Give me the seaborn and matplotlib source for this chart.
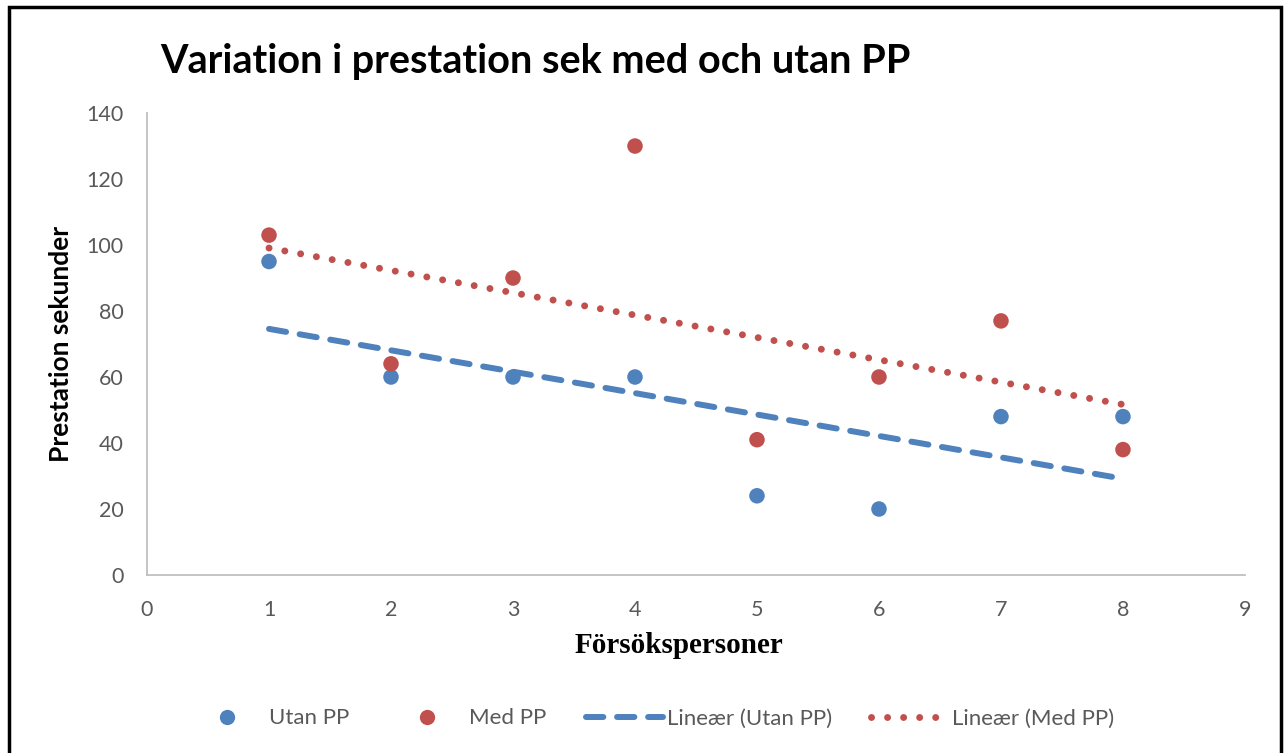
import numpy as np
import pandas as pd
import matplotlib
matplotlib.use("Agg")
import matplotlib.pyplot as plt
from matplotlib.lines import Line2D
from matplotlib.patches import Rectangle
import seaborn as sns

# Data
persons = [1, 2, 3, 4, 5, 6, 7, 8]
utan_pp = [95, 60, 60, 60, 24, 20, 48, 48]
med_pp = [103, 64, 90, 130, 41, 60, 77, 38]
x_ticks = [0, 1, 2, 3, 4, 5, 6, 7, 8, 9]
y_ticks = [0, 20, 40, 60, 80, 100, 120, 140]
title = "Variation i prestation sek med och utan PP"
xlabel = "Försökspersoner"
ylabel = "Prestation sekunder"
legend_labels = ["Utan PP", "Med PP", "Lineær (Utan PP)", "Lineær (Med PP)"]

sns.set_style("white")
plt.rcParams['font.family'] = ['Lato', 'DejaVu Sans']
plt.rcParams['text.color'] = 'black'

BLUE = "#4F81BD"
RED = "#C0504D"
GREY = "#595959"
DASH = (0, (2.9, 2.3))
DOT = (0, (0.01, 2.3))
DASH_LW = 4.3
DOT_LW = 5.0

df = pd.DataFrame({"x": persons, "utan": utan_pp, "med": med_pp})

fig = plt.figure(figsize=(12.84, 7.53), dpi=100)
ax = fig.add_axes([0.1145, 0.2364, 0.8551, 0.6135])

# Trend lines (linear fit)
sns.regplot(data=df, x="x", y="utan", ax=ax, scatter=False, ci=None, truncate=True,
            line_kws=dict(color=BLUE, lw=DASH_LW, linestyle=DASH,
                          dash_capstyle="round", zorder=2))
sns.regplot(data=df, x="x", y="med", ax=ax, scatter=False, ci=None, truncate=True,
            line_kws=dict(color=RED, lw=DOT_LW, linestyle=DOT,
                          dash_capstyle="round", zorder=2))

# Points
sns.scatterplot(data=df, x="x", y="utan", ax=ax, color=BLUE, s=125, edgecolor="none", zorder=3)
sns.scatterplot(data=df, x="x", y="med", ax=ax, color=RED, s=125, edgecolor="none", zorder=3)

ax.set_xlim(0, 9)
ax.set_ylim(0, 140)
ax.set_xticks(x_ticks)
ax.set_yticks(y_ticks)
ax.tick_params(axis="both", labelsize=15.5, colors=GREY, length=0)
ax.tick_params(axis="x", pad=18)
ax.tick_params(axis="y", pad=17)
for s in ["top", "right"]:
    ax.spines[s].set_visible(False)
for s in ["left", "bottom"]:
    ax.spines[s].set_color("#BFBFBF")
    ax.spines[s].set_linewidth(1.3)

ax.set_xlabel(xlabel, fontsize=21, fontweight="bold", family=["Liberation Serif"], color="black")
ax.xaxis.set_label_coords(0.4845, -0.123)
ax.set_ylabel(ylabel, fontsize=19, fontweight="bold", color="black")
ax.yaxis.set_label_coords(-0.0674, 0.5)

fig.text(0.1245, 0.918, title, fontsize=28.5, fontweight="bold", ha="left", va="center",
         color="black")

handles = [
    Line2D([], [], marker="o", color="none", markerfacecolor=BLUE, markeredgecolor="none", markersize=11),
    Line2D([], [], marker="o", color="none", markerfacecolor=RED, markeredgecolor="none", markersize=11),
    Line2D([], [], color=BLUE, lw=DASH_LW, linestyle=DASH, dash_capstyle="round"),
    Line2D([], [], color=RED, lw=DOT_LW, linestyle=DOT, dash_capstyle="round"),
]
leg = fig.legend(handles, legend_labels, loc="center", bbox_to_anchor=(0.507, 0.046), ncol=4,
                 frameon=False, fontsize=16, handlelength=3.47, handletextpad=0.18,
                 columnspacing=1.75, labelcolor=GREY)

fig.patches.append(Rectangle((0.007, -0.01), 0.9907, 1.0007, transform=fig.transFigure,
                             fill=False, edgecolor="black", lw=2.5, zorder=10))

fig.savefig("out.png", dpi=100)
